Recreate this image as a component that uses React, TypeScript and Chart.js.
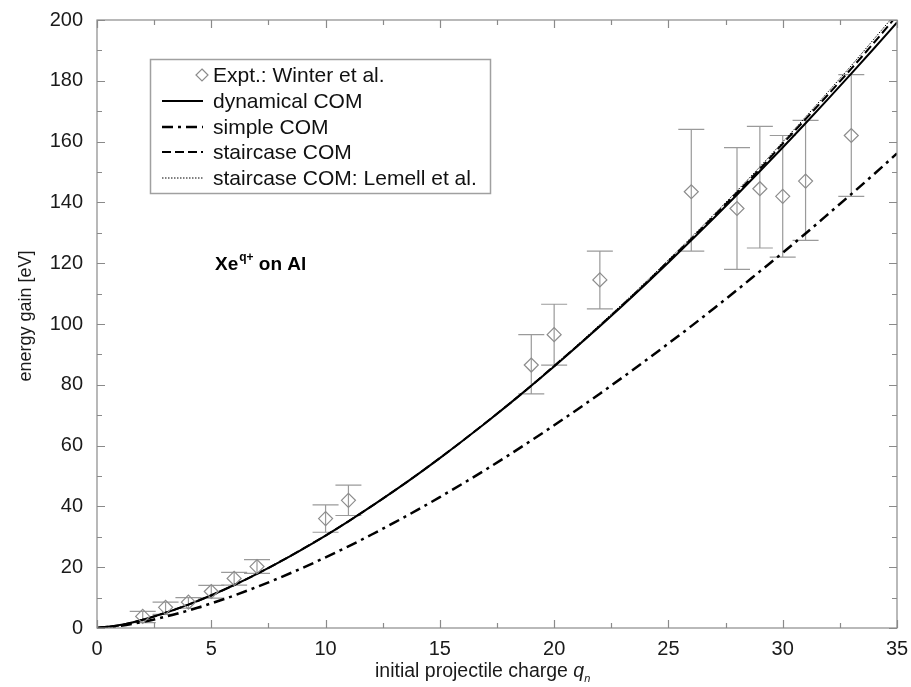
import React, { useEffect, useRef } from 'react';
import { Chart, registerables } from 'chart.js';

Chart.register(...registerables);

// ---- data ----
const chargeQ = [0, 1, 2, 3, 4, 5, 6, 7, 8, 9, 10, 11, 12, 13, 14, 15, 16, 17, 18, 19, 20, 21, 22, 23, 24, 25, 26, 27, 28, 29, 30, 31, 32, 33, 34, 35];
const dynamicalCOM = [0, 0.96, 2.72, 5.0, 7.7, 10.76, 14.14, 17.82, 21.77, 25.97, 30.42, 35.09, 39.99, 45.09, 50.39, 55.88, 61.57, 67.43, 73.47, 79.67, 86.04, 92.57, 99.27, 106.11, 113.11, 120.25, 127.53, 134.97, 142.53, 150.24, 158.08, 166.04, 174.14, 182.37, 190.72, 199.19];
const simpleCOM = [0, 0.7, 2.01, 3.73, 5.77, 8.11, 10.69, 13.52, 16.56, 19.81, 23.24, 26.87, 30.67, 34.65, 38.76, 43.06, 47.49, 52.06, 56.8, 61.69, 66.68, 71.81, 77.08, 82.47, 87.96, 93.59, 99.3, 105.19, 111.18, 117.31, 123.43, 129.77, 136.23, 142.73, 149.33, 156.11];
const staircaseCOM = [0, 0.9, 2.7, 5.0, 7.7, 10.7, 14.1, 17.8, 21.8, 26.0, 30.4, 35.1, 40.0, 45.1, 50.4, 55.9, 61.6, 67.5, 73.5, 79.7, 86.2, 92.7, 99.4, 106.3, 113.3, 120.7, 128.0, 135.6, 143.2, 151.0, 159.3, 167.4, 175.6, 184.0, 192.6, 201.5];
const lemellCOM = [0, 0.9, 2.7, 5.0, 7.7, 10.8, 14.2, 17.9, 21.9, 26.1, 30.5, 35.2, 40.1, 45.2, 50.5, 56.0, 61.7, 67.6, 73.7, 79.9, 86.4, 93.0, 99.8, 106.7, 113.8, 121.1, 128.5, 136.1, 143.8, 151.7, 159.9, 168.1, 176.5, 185.0, 193.8, 202.6];

const exptQ = [2, 3, 4, 5, 6, 7, 10, 11, 19, 20, 22, 26, 28, 29, 30, 31, 33];
const exptGain = [3.8, 6.8, 8.5, 12, 16.3, 20.2, 36, 42, 86.5, 96.5, 114.5, 143.5, 138, 144.5, 142, 147, 162];
const exptLow = [1.8, 4.5, 6.5, 9.8, 14.1, 18, 31.5, 37, 77, 86.5, 105, 124, 118, 125, 122, 127.5, 142];
const exptHigh = [5.5, 8.5, 10, 14, 18.3, 22.5, 40.5, 47, 96.5, 106.5, 124, 164, 158, 165, 162, 167, 182];

const xTickValues = [0, 5, 10, 15, 20, 25, 30, 35];
const yTickValues = [0, 20, 40, 60, 80, 100, 120, 140, 160, 180, 200];

const legendLabels = ['Expt.: Winter et al.', 'dynamical COM', 'simple COM', 'staircase COM', 'staircase COM: Lemell et al.'];

const FONT = "'Liberation Sans', Arial, Helvetica, sans-serif";
const FRAME = '#8a8a8a';
const EXPT_COLOR = '#8c8c8c';

const pts = (xs: number[], ys: number[]) => xs.map((x, i) => ({ x, y: ys[i] }));

const decorPlugin = {
  id: 'decor',
  beforeDatasetsDraw(chart: any) {
    const { ctx, chartArea: a, scales } = chart;
    const xs = scales.x, ys = scales.y;
    ctx.save();
    ctx.beginPath();
    ctx.rect(a.left, a.top, a.right - a.left, a.bottom - a.top);
    ctx.clip();
    ctx.strokeStyle = '#9a9a9a';
    ctx.lineWidth = 1.2;
    exptQ.forEach((q, i) => {
      const px = xs.getPixelForValue(q);
      const lo = ys.getPixelForValue(exptLow[i]);
      const hi = ys.getPixelForValue(exptHigh[i]);
      ctx.beginPath();
      ctx.moveTo(px, lo); ctx.lineTo(px, hi);
      ctx.moveTo(px - 13, lo); ctx.lineTo(px + 13, lo);
      ctx.moveTo(px - 13, hi); ctx.lineTo(px + 13, hi);
      ctx.stroke();
    });
    ctx.restore();
  },
  afterDraw(chart: any) {
    const { ctx, chartArea: a, scales } = chart;
    const xs = scales.x, ys = scales.y;
    ctx.save();
    ctx.strokeStyle = FRAME;
    ctx.lineWidth = 1.2;
    ctx.strokeRect(a.left, a.top, a.right - a.left, a.bottom - a.top);
    ctx.beginPath();
    for (let v = 0; v <= 35; v += 2.5) {
      const px = Math.round(xs.getPixelForValue(v)) + 0.5;
      const len = v % 5 === 0 ? 8 : 5;
      ctx.moveTo(px, a.bottom); ctx.lineTo(px, a.bottom - len);
      ctx.moveTo(px, a.top); ctx.lineTo(px, a.top + len);
    }
    for (let v = 0; v <= 200; v += 10) {
      const py = Math.round(ys.getPixelForValue(v)) + 0.5;
      const len = v % 20 === 0 ? 8 : 5;
      ctx.moveTo(a.left, py); ctx.lineTo(a.left + len, py);
      ctx.moveTo(a.right, py); ctx.lineTo(a.right - len, py);
    }
    ctx.stroke();

    ctx.fillStyle = '#1a1a1a';
    ctx.save();
    ctx.translate(26, 316);
    ctx.rotate(-Math.PI / 2);
    ctx.font = `18px ${FONT}`;
    ctx.textAlign = 'center';
    ctx.textBaseline = 'middle';
    ctx.fillText('energy gain [eV]', 0, 0);
    ctx.restore();

    ctx.textAlign = 'left';
    ctx.textBaseline = 'alphabetic';
    let x = 375;
    const base = 677;
    ctx.font = `19.5px ${FONT}`;
    const t1 = 'initial projectile charge ';
    ctx.fillText(t1, x, base);
    x += ctx.measureText(t1).width;
    ctx.font = `italic 19.5px ${FONT}`;
    ctx.fillText('q', x, base);
    x += ctx.measureText('q').width;
    ctx.font = `italic 11px ${FONT}`;
    ctx.fillText('n', x, base + 5);

    ctx.fillStyle = '#000';
    let ax = 215;
    const ab = 270;
    ctx.font = `bold 19px ${FONT}`;
    ctx.fillText('Xe', ax, ab);
    ax += ctx.measureText('Xe').width;
    ctx.font = `bold 12px ${FONT}`;
    ctx.fillText('q+', ax + 1, ab - 9);
    ax += ctx.measureText('q+').width + 1;
    ctx.font = `bold 19px ${FONT}`;
    ctx.fillText(' on Al', ax, ab);

    const lx = 150, ly = 59, lw = 340, lh = 134;
    ctx.fillStyle = '#fff';
    ctx.fillRect(lx, ly, lw, lh);
    ctx.strokeStyle = '#a0a0a0';
    ctx.lineWidth = 1.5;
    ctx.strokeRect(lx + 0.5, ly + 0.5, lw, lh);
    const rows = [75, 101, 127, 152, 178];
    const ds = chart.data.datasets;
    ctx.font = `21px ${FONT}`;
    ctx.textBaseline = 'middle';
    rows.forEach((ry, i) => {
      if (i === 0) {
        ctx.strokeStyle = EXPT_COLOR;
        ctx.lineWidth = 1.2;
        ctx.beginPath();
        ctx.moveTo(202, ry - 6); ctx.lineTo(208, ry); ctx.lineTo(202, ry + 6); ctx.lineTo(196, ry); ctx.closePath();
        ctx.stroke();
      } else {
        const d = ds[i];
        ctx.strokeStyle = d.borderColor;
        ctx.lineWidth = d.borderWidth;
        ctx.setLineDash(d.borderDash || []);
        ctx.beginPath();
        ctx.moveTo(162, ry); ctx.lineTo(203, ry);
        ctx.stroke();
        ctx.setLineDash([]);
      }
      ctx.fillStyle = '#111';
      ctx.fillText(legendLabels[i], 213, ry + 1);
    });
    ctx.restore();
  },
};

export default function App() {
  const ref = useRef<HTMLCanvasElement>(null);
  useEffect(() => {
    document.body.style.margin = '0';
    const canvas = ref.current;
    if (!canvas) return;
    const chart = new Chart(canvas, {
      type: 'scatter',
      data: {
        datasets: [
          {
            label: legendLabels[0],
            data: pts(exptQ, exptGain),
            showLine: false,
            pointStyle: 'rectRot',
            pointRadius: 7,
            pointBorderWidth: 1.2,
            pointBorderColor: EXPT_COLOR,
            pointBackgroundColor: 'rgba(0,0,0,0)',
            borderColor: EXPT_COLOR,
          },
          {
            label: legendLabels[1],
            data: pts(chargeQ, dynamicalCOM),
            showLine: true,
            pointRadius: 0,
            borderColor: '#000',
            borderWidth: 2,
            borderDash: [],
            cubicInterpolationMode: 'monotone',
          },
          {
            label: legendLabels[2],
            data: pts(chargeQ, simpleCOM),
            showLine: true,
            pointRadius: 0,
            borderColor: '#000',
            borderWidth: 2.5,
            borderDash: [11, 5, 3, 5],
            cubicInterpolationMode: 'monotone',
          },
          {
            label: legendLabels[3],
            data: pts(chargeQ, staircaseCOM),
            showLine: true,
            pointRadius: 0,
            borderColor: '#000',
            borderWidth: 2,
            borderDash: [9, 4],
            cubicInterpolationMode: 'monotone',
          },
          {
            label: legendLabels[4],
            data: pts(chargeQ, lemellCOM),
            showLine: true,
            pointRadius: 0,
            borderColor: '#000',
            borderWidth: 1,
            borderDash: [1.5, 1.5],
            cubicInterpolationMode: 'monotone',
          },
        ],
      },
      options: {
        responsive: false,
        animation: false,
        layout: { padding: { top: 20, right: 14, left: 0, bottom: 0 } },
        plugins: {
          legend: { display: false },
          tooltip: { enabled: false },
        },
        scales: {
          x: {
            type: 'linear',
            min: 0,
            max: 35,
            afterBuildTicks: (s: any) => { s.ticks = xTickValues.map((v) => ({ value: v })); },
            afterFit: (s: any) => { s.height = 59; s.paddingLeft = 0; s.paddingRight = 0; },
            grid: { display: false, drawTicks: false },
            border: { display: false },
            ticks: { padding: 9, color: '#1a1a1a', font: { family: FONT, size: 20 }, maxRotation: 0 },
          },
          y: {
            type: 'linear',
            min: 0,
            max: 200,
            afterBuildTicks: (s: any) => { s.ticks = yTickValues.map((v) => ({ value: v })); },
            afterFit: (s: any) => { s.width = 97; s.paddingTop = 0; s.paddingBottom = 0; },
            grid: { display: false, drawTicks: false },
            border: { display: false },
            ticks: { padding: 14, color: '#1a1a1a', font: { family: FONT, size: 20 } },
          },
        },
      },
      plugins: [decorPlugin],
    } as any);
    return () => chart.destroy();
  }, []);
  return (
    <div style={{ width: 911, height: 687, background: '#fff' }}>
      <canvas ref={ref} width={911} height={687} style={{ display: 'block' }} />
    </div>
  );
}
